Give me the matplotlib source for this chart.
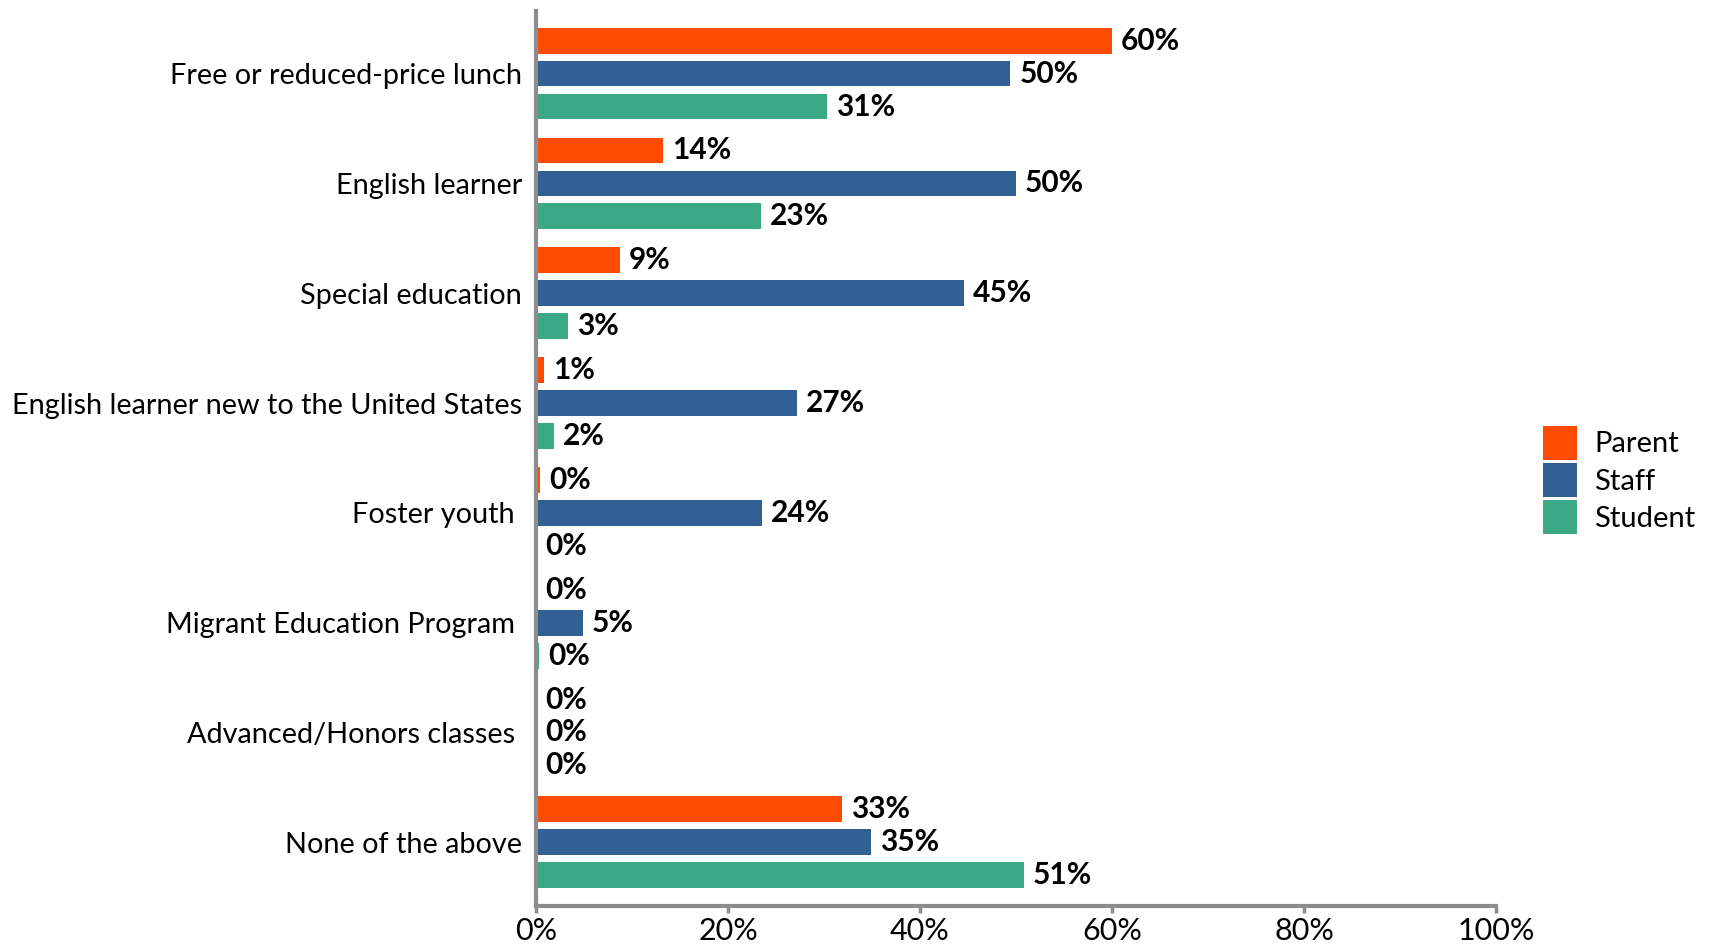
import numpy as np
import matplotlib
matplotlib.use("Agg")
from matplotlib import pyplot as plt
from matplotlib.patches import Patch

categories = [
    "Free or reduced-price lunch",
    "English learner",
    "Special education",
    "English learner new to the United States",
    "Foster youth ",
    "Migrant Education Program ",
    "Advanced/Honors classes ",
    "None of the above",
]
groups = ["Parent", "Staff", "Student"]
colors = ["#FF4B00", "#315F93", "#3BA886"]

# bar lengths (percent)
parent = [60.0, 13.2, 8.7, 0.85, 0.45, 0.0, 0.0, 31.9]
staff = [49.4, 50.0, 44.6, 27.2, 23.5, 4.9, 0.0, 34.9]
student = [30.3, 23.4, 3.3, 1.9, 0.0, 0.3, 0.0, 50.8]

# printed labels (rounded in the source, not always matching the bar)
parent_lbl = [60, 14, 9, 1, 0, 0, 0, 33]
staff_lbl = [50, 50, 45, 27, 24, 5, 0, 35]
student_lbl = [31, 23, 3, 2, 0, 0, 0, 51]

xticks = [0, 20, 40, 60, 80, 100]
xtick_labels = ["0%", "20%", "40%", "60%", "80%", "100%"]

plt.rcParams["font.family"] = ["Lato", "DejaVu Sans"]

fig = plt.figure(figsize=(17.15, 9.44), dpi=100)
ax = fig.add_axes([536 / 1715, 1 - 906 / 944, 960 / 1715, 895 / 944])

y = np.arange(len(categories))
height = 0.235
step = 0.30
series = [(parent, parent_lbl), (staff, staff_lbl), (student, student_lbl)]
for i, (vals, lbls) in enumerate(series):
    pos = y + (i - 1) * step
    ax.barh(pos, vals, height=height, color=colors[i], label=groups[i])
    for p, v, l in zip(pos, vals, lbls):
        ax.annotate(f"{l}%", (v, p), xytext=(9, 0), textcoords="offset pixels",
                    ha="left", va="center", fontsize=21.5, fontweight="bold",
                    color="black")

ax.set_xlim(0, 100)
ax.set_ylim(7.58, -0.57)
ax.set_yticks(y)
ax.set_yticklabels(categories, fontsize=20.8)
ax.set_xticks(xticks)
ax.set_xticklabels(xtick_labels, fontsize=22)
ax.tick_params(axis="y", length=0, pad=10)
ax.tick_params(axis="x", length=5, width=2.5, color="#8c8c8c", pad=3)

for side in ["top", "right"]:
    ax.spines[side].set_visible(False)
for side in ["left", "bottom"]:
    ax.spines[side].set_color("#8c8c8c")
    ax.spines[side].set_linewidth(3)

handles = [Patch(facecolor=c, label=g) for c, g in zip(colors, groups)]
fig.legend(handles=handles, loc="center left", bbox_to_anchor=(1543 / 1715, 1 - 480 / 944),
           frameon=False, fontsize=21, handlelength=1.165, handleheight=1.415,
           handletextpad=0.58, labelspacing=0.12, borderpad=0, borderaxespad=0)

fig.savefig("out.png", dpi=100)
